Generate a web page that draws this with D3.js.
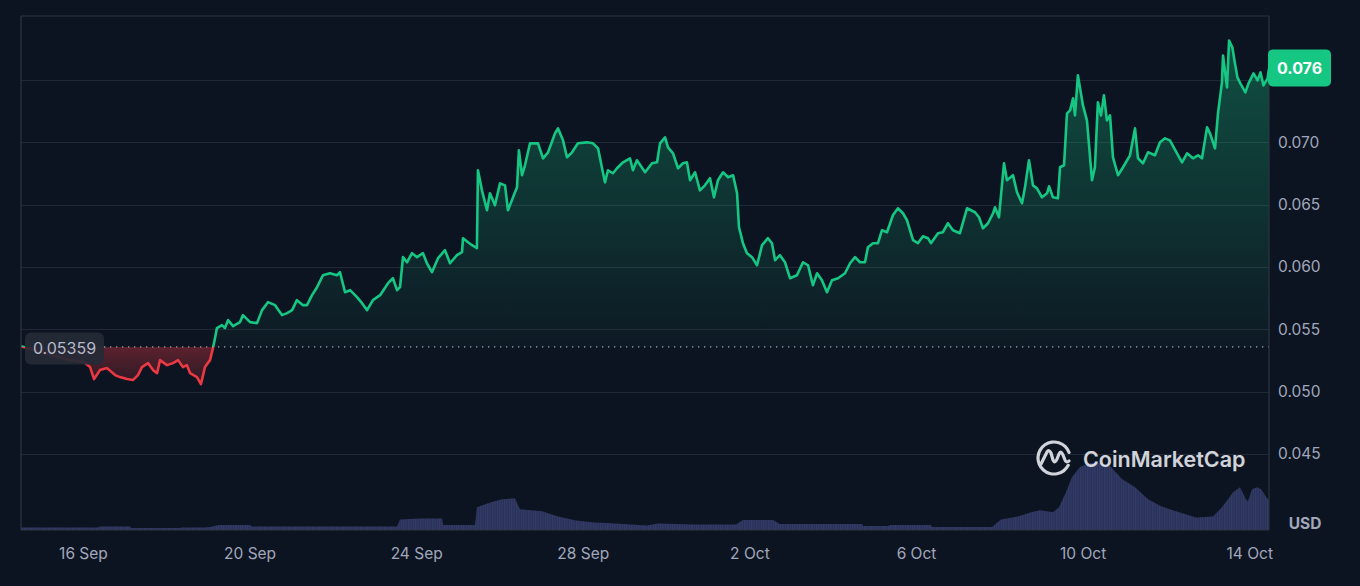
<!DOCTYPE html>
<html>
<head>
<meta charset="utf-8">
<script src="https://cdn.jsdelivr.net/npm/d3@7"></script>
<style>
  html, body { margin: 0; padding: 0; background: #0d1421; }
  svg { display: block; }
</style>
</head>
<body>
<svg id="chart" width="1360" height="586"></svg>
<script>
// ---------------- DATA ----------------
// hours since 14 Sep 2024 12:00 UTC
const priceHours = [0,4.0,10.9,19.6,28.2,36.3,39.8,42.1,45.5,49.6,54.2,57.0,61.1,64.5,67.4,69.7,73.2,76.1,78.4,80.1,84.1,87.6,90.5,93.3,95.6,97.4,101.4,103.7,106.0,108.9,110.6,111.8,112.9,115.8,117.5,119.3,122.2,126.2,127.9,132.0,136.0,138.9,142.3,146.4,150.4,153.3,156.2,159.0,162.5,164.8,167.7,170.6,174.0,178.0,182.1,183.8,186.7,189.6,193.6,196.5,199.4,202.8,206.9,211.5,214.3,216.7,218.4,220.1,222.4,225.3,228.2,231.6,233.9,236.8,240.3,244.3,247.2,251.2,254.1,254.7,257.6,259.9,262.7,263.3,265.6,268.5,270.2,273.1,276.0,278.9,280.6,283.5,285.8,286.9,288.7,290.4,293.3,297.9,300.8,303.7,307.7,309.4,312.3,314.6,317.5,320.9,326.1,329.6,332.5,334.8,336.5,338.2,341.1,343.4,346.9,350.9,352.6,354.9,359.6,363.6,366.5,368.2,371.1,372.8,375.7,378.6,381.4,383.7,385.5,388.4,391.2,394.1,397.0,399.3,401.6,404.5,407.4,410.3,412.6,413.7,416.0,418.3,421.2,424.1,427.0,430.4,432.7,434.5,437.3,440.2,443.1,447.1,450.6,453.5,456.3,458.7,461.5,464.4,467.3,470.8,474.8,477.7,480.6,483.4,486.3,488.0,490.9,493.8,496.1,499.0,502.4,505.3,508.2,510.5,514.0,516.8,519.7,522.6,524.3,528.4,531.2,534.1,537.0,541.0,545.1,549.7,552.0,554.3,557.2,560.1,561.2,563.5,566.4,568.1,571.6,573.9,576.8,578.5,580.8,583.1,585.4,588.3,591.2,592.4,594.6,597.5,598.7,601.0,602.7,604.5,606.2,607.3,609.0,611.9,614.2,617.1,618.8,620.5,622.3,624.0,625.7,627.5,629.2,632.1,635.0,639.0,641.9,643.6,646.5,649.4,653.4,656.3,659.2,662.0,666.1,669.0,671.9,675.3,678.2,680.5,683.4,685.1,688.0,689.7,692.0,692.6,694.9,696.1,698.0,699.2,700.9,702.6,705.5,707.3,710.2,712.5,714.2,715.9,718.3,719.1];
const priceValues = [0.05365,0.05349,0.05317,0.05285,0.05253,0.05237,0.05197,0.05101,0.05173,0.05189,0.05133,0.05117,0.05101,0.05093,0.05133,0.05197,0.05229,0.05173,0.05149,0.05253,0.05213,0.05229,0.05253,0.05197,0.05213,0.05149,0.05117,0.05061,0.05197,0.05253,0.05349,0.05430,0.05510,0.05534,0.05510,0.05574,0.05526,0.05558,0.05614,0.05558,0.05550,0.05654,0.05718,0.05694,0.05614,0.05630,0.05654,0.05734,0.05694,0.05694,0.05774,0.05838,0.05934,0.05950,0.05934,0.05958,0.05798,0.05814,0.05758,0.05710,0.05654,0.05734,0.05774,0.05870,0.05910,0.05814,0.05838,0.06079,0.06038,0.06111,0.06079,0.06111,0.06030,0.05958,0.06071,0.06135,0.06030,0.06095,0.06119,0.06231,0.06199,0.06175,0.06151,0.06776,0.06615,0.06455,0.06591,0.06495,0.06671,0.06655,0.06455,0.06559,0.06639,0.06936,0.06736,0.06816,0.06992,0.06992,0.06872,0.06920,0.07072,0.07112,0.07016,0.06880,0.06920,0.06992,0.07000,0.06992,0.06952,0.06792,0.06679,0.06776,0.06752,0.06792,0.06840,0.06872,0.06776,0.06856,0.06760,0.06832,0.06840,0.06992,0.07040,0.06960,0.06912,0.06792,0.06832,0.06840,0.06696,0.06760,0.06615,0.06655,0.06712,0.06559,0.06696,0.06760,0.06720,0.06736,0.06591,0.06319,0.06191,0.06111,0.06079,0.06014,0.06175,0.06231,0.06191,0.06055,0.06095,0.06038,0.05910,0.05934,0.06038,0.06014,0.05854,0.05950,0.05894,0.05798,0.05894,0.05910,0.05950,0.06030,0.06079,0.06038,0.06038,0.06159,0.06191,0.06191,0.06295,0.06279,0.06415,0.06471,0.06431,0.06375,0.06215,0.06191,0.06247,0.06231,0.06191,0.06271,0.06279,0.06351,0.06295,0.06271,0.06471,0.06439,0.06399,0.06311,0.06351,0.06431,0.06479,0.06399,0.06832,0.06696,0.06736,0.06599,0.06511,0.06639,0.06856,0.06655,0.06631,0.06559,0.06591,0.06647,0.06559,0.06551,0.06800,0.06816,0.07232,0.07256,0.07353,0.07216,0.07537,0.07296,0.07176,0.06696,0.06800,0.07321,0.07216,0.07377,0.07176,0.07216,0.06880,0.06736,0.06800,0.06896,0.07112,0.06872,0.06832,0.06920,0.06896,0.07000,0.07032,0.07016,0.06912,0.06840,0.06912,0.06872,0.06896,0.06872,0.07120,0.07072,0.06952,0.07232,0.07481,0.07697,0.07441,0.07817,0.07761,0.07657,0.07521,0.07473,0.07401,0.07473,0.07553,0.07497,0.07561,0.07457,0.07513,0.07593];

// volume (arbitrary units, hundred-thousand USD)
const volumeHours = [0,44.4,45.5,62.8,63.4,91.6,92.8,106.0,108.9,114.1,132.0,133.1,216.7,218.4,229.9,242.6,243.2,261.6,262.7,270.8,277.2,284.6,287.5,300.2,309.4,319.8,330.2,337.6,360.7,367.0,387.2,412.0,416.0,433.3,437.3,484.6,485.2,499.6,500.7,524.3,524.9,559.5,564.7,574.5,582.0,587.1,594.6,598.1,602.1,605.6,610.2,615.9,621.7,627.5,634.4,641.9,649.4,656.9,667.3,677.1,686.8,692.0,698.4,702.4,705.8,707.0,709.3,712.2,714.5,718.5,719.1];
const volumeValues = [2,2,3,3,1.5,1.5,2,2,2.5,4.5,4.5,3,3,10,11,11,4.5,4.5,22,27,30,31,20,18,13,9,7,6.5,4,6,5,5,9.5,9.5,5.5,5.5,3.5,3.5,4.5,4.5,2.5,2.5,10,13,17,19,17,22,37,52,62,66,66,63,50,42,30,23,17,12,13,22,37,42,30,28,40,42,40,30,30];

const baselineValue = 0.05359;
const baselineLabel = "0.05359";
const lastPriceLabel = "0.076";
const yTicks = [0.045, 0.050, 0.055, 0.060, 0.065, 0.070, 0.075];
const xTickDates = ["2024-09-16","2024-09-20","2024-09-24","2024-09-28","2024-10-02","2024-10-06","2024-10-10","2024-10-14"];
const xTickLabels = ["16 Sep","20 Sep","24 Sep","28 Sep","2 Oct","6 Oct","10 Oct","14 Oct"];
const currencyLabel = "USD";
const watermarkText = "CoinMarketCap";

// ---------------- CHART ----------------
const startMs = Date.UTC(2024, 8, 14, 12, 0);
const toDate = h => new Date(startMs + h * 3600000);
const priceData = priceHours.map((h, i) => ({ t: toDate(h), v: priceValues[i] }));
const volData = volumeHours.map((h, i) => ({ t: toDate(h), v: volumeValues[i] }));

const W = 1360, H = 586;
const plot = { left: 21, right: 1269, top: 16, bottom: 530 };

const svg = d3.select("#chart");
const font = "Inter, 'Noto Sans', sans-serif";
const green = "#16c784", red = "#ea3943";

const x = d3.scaleTime()
  .domain([toDate(priceHours[0]), toDate(priceHours[priceHours.length - 1])])
  .range([plot.left, plot.right]);
const y = d3.scaleLinear().domain([0.045, 0.075]).range([454, 80]);
const vy = d3.scaleLinear().domain([0, d3.max(volumeValues)]).range([plot.bottom - 0.5, plot.bottom - 67]);

svg.append("rect").attr("width", W).attr("height", H).attr("fill", "#0d1421");

const defs = svg.append("defs");
const yb = y(baselineValue);

defs.append("clipPath").attr("id", "clipAbove")
  .append("rect").attr("x", 0).attr("y", 0).attr("width", W).attr("height", yb);
defs.append("clipPath").attr("id", "clipBelow")
  .append("rect").attr("x", 0).attr("y", yb).attr("width", W).attr("height", H - yb);

const gg = defs.append("linearGradient").attr("id", "gGreen")
  .attr("gradientUnits", "userSpaceOnUse").attr("x1", 0).attr("x2", 0).attr("y1", plot.top).attr("y2", yb);
gg.append("stop").attr("offset", 0).attr("stop-color", green).attr("stop-opacity", 0.36);
gg.append("stop").attr("offset", 1).attr("stop-color", green).attr("stop-opacity", 0.03);

const gr = defs.append("linearGradient").attr("id", "gRed")
  .attr("gradientUnits", "userSpaceOnUse").attr("x1", 0).attr("x2", 0).attr("y1", yb).attr("y2", y(0.0505));
gr.append("stop").attr("offset", 0).attr("stop-color", red).attr("stop-opacity", 0.36);
gr.append("stop").attr("offset", 1).attr("stop-color", red).attr("stop-opacity", 0.12);

const pat = defs.append("pattern").attr("id", "volPat").attr("patternUnits", "userSpaceOnUse")
  .attr("width", 2.4).attr("height", 10);
pat.append("rect").attr("width", 2.4).attr("height", 10).attr("fill", "#283056");
pat.append("rect").attr("width", 1.2).attr("height", 10).attr("fill", "#343c69");

// grid
svg.append("g").selectAll("line").data(yTicks).join("line")
  .attr("x1", plot.left).attr("x2", plot.right)
  .attr("y1", d => Math.round(y(d)) + 0.5).attr("y2", d => Math.round(y(d)) + 0.5)
  .attr("stroke", "#222836").attr("stroke-width", 1);

// volume
svg.append("path").datum(volData)
  .attr("d", d3.area().x(d => x(d.t)).y0(plot.bottom).y1(d => vy(d.v)))
  .attr("fill", "url(#volPat)");

// price areas
const area = d3.area().x(d => x(d.t)).y0(yb).y1(d => y(d.v));
svg.append("path").datum(priceData).attr("d", area)
  .attr("fill", "url(#gGreen)").attr("clip-path", "url(#clipAbove)");
svg.append("path").datum(priceData).attr("d", area)
  .attr("fill", "url(#gRed)").attr("clip-path", "url(#clipBelow)");

// price lines
const line = d3.line().x(d => x(d.t)).y(d => y(d.v));
svg.append("path").datum(priceData).attr("d", line)
  .attr("fill", "none").attr("stroke", green).attr("stroke-width", 2.6)
  .attr("stroke-linejoin", "round").attr("clip-path", "url(#clipAbove)");
svg.append("path").datum(priceData).attr("d", line)
  .attr("fill", "none").attr("stroke", red).attr("stroke-width", 2.6)
  .attr("stroke-linejoin", "round").attr("clip-path", "url(#clipBelow)");

// baseline dotted
svg.append("line").attr("x1", 104).attr("x2", plot.right).attr("y1", yb).attr("y2", yb)
  .attr("stroke", "#9ea4b4").attr("stroke-width", 1.2).attr("stroke-dasharray", "1.3,4.7");

// frame
const frame = svg.append("g").attr("stroke", "#2e3442").attr("stroke-width", 1.2).attr("fill", "none");
frame.append("line").attr("x1", plot.left).attr("x2", plot.right).attr("y1", plot.top).attr("y2", plot.top);
frame.append("line").attr("x1", plot.left).attr("x2", plot.left).attr("y1", plot.top).attr("y2", plot.bottom);
frame.append("line").attr("x1", plot.right).attr("x2", plot.right).attr("y1", plot.top).attr("y2", plot.bottom);
frame.append("line").attr("x1", plot.left).attr("x2", plot.right).attr("y1", plot.bottom).attr("y2", plot.bottom);

// last price position (its label hides the axis label it covers)
const lastY = y(priceValues[priceValues.length - 1]);

// y axis labels
svg.append("g").selectAll("text").data(yTicks.filter(d => Math.abs(y(d) - lastY) > 22)).join("text")
  .attr("x", 1278).attr("y", d => y(d)).attr("dy", "0.35em")
  .attr("font-family", font).attr("font-size", 15.5).attr("fill", "#a1a7bb")
  .text(d => d3.format(".3f")(d));

// x axis labels
svg.append("g").selectAll("text").data(xTickDates).join("text")
  .attr("x", d => x(new Date(d + "T00:00:00Z"))).attr("y", 559)
  .attr("text-anchor", "middle")
  .attr("font-family", font).attr("font-size", 15.5).attr("fill", "#a1a7bb")
  .text((d, i) => xTickLabels[i]);

// USD
svg.append("text").attr("x", 1305).attr("y", 524).attr("dy", "0.35em").attr("text-anchor", "middle")
  .attr("font-family", font).attr("font-size", 15.5).attr("font-weight", 700).attr("fill", "#a1a7bb")
  .text(currencyLabel);

// baseline label
svg.append("rect").attr("x", 25).attr("y", yb - 14.5).attr("width", 79).attr("height", 32).attr("rx", 6)
  .attr("fill", "#262a37").attr("fill-opacity", 0.93);
svg.append("text").attr("x", 64.5).attr("y", yb + 1.5).attr("dy", "0.35em").attr("text-anchor", "middle")
  .attr("font-family", font).attr("font-size", 16).attr("fill", "#b4bacb")
  .text(baselineLabel);

// last price label
svg.append("rect").attr("x", 1268).attr("y", lastY - 19).attr("width", 63).attr("height", 37).attr("rx", 5)
  .attr("fill", green);
svg.append("text").attr("x", 1299.5).attr("y", lastY).attr("dy", "0.35em").attr("text-anchor", "middle")
  .attr("font-family", font).attr("font-size", 16).attr("font-weight", 700).attr("fill", "#ffffff")
  .text(lastPriceLabel);

// watermark
const wm = svg.append("g").attr("opacity", 0.9);
const cx = 1054, cy = 458, r = 16;
const arc = d3.arc().innerRadius(r - 1.6).outerRadius(r + 1.6)
  .startAngle(Math.PI * 0.62).endAngle(Math.PI * 2.42).cornerRadius(1.6);
wm.append("path").attr("transform", `translate(${cx},${cy})`).attr("d", arc()).attr("fill", "#e6e9ef");
wm.append("path")
  .attr("d", `M${cx-13},${cy+6} L${cx-7},${cy-6} Q${cx-5},${cy-9} ${cx-3},${cy-5} L${cx-1},${cy+2} Q${cx+1},${cy+6} ${cx+3},${cy+1} L${cx+5},${cy-4} Q${cx+7},${cy-8} ${cx+9},${cy-3} L${cx+11},${cy+2} Q${cx+12},${cy+5} ${cx+15},${cy+3}`)
  .attr("fill", "none").attr("stroke", "#e6e9ef").attr("stroke-width", 3.2)
  .attr("stroke-linecap", "round").attr("stroke-linejoin", "round");
wm.append("text").attr("x", 1083).attr("y", 467)
  .attr("font-family", font).attr("font-size", 21.5).attr("font-weight", 600).attr("fill", "#e6e9ef")
  .text(watermarkText);
</script>
</body>
</html>
